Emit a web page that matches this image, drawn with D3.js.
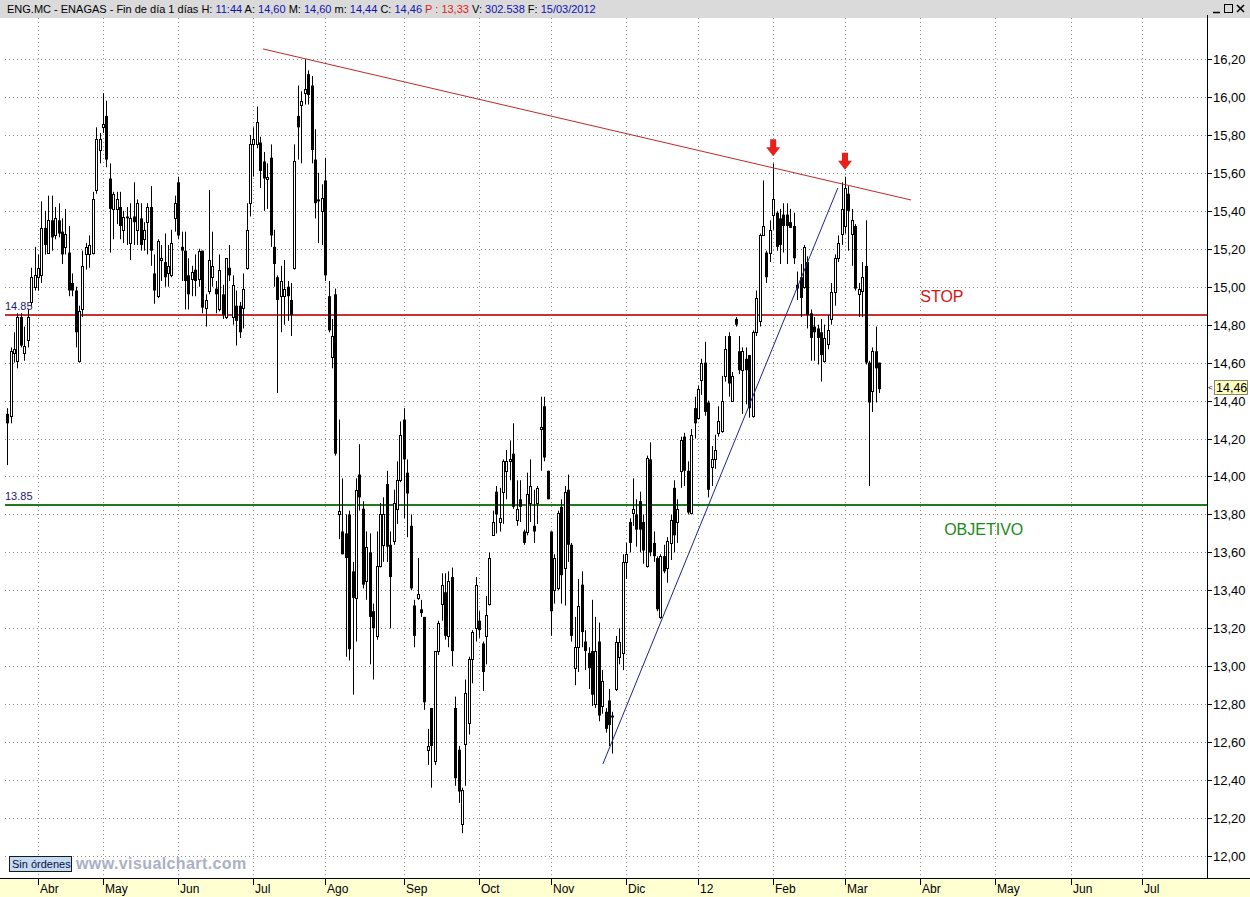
<!DOCTYPE html>
<html><head><meta charset="utf-8">
<script src="https://cdn.jsdelivr.net/npm/d3@7/dist/d3.min.js"></script>
<style>html,body{margin:0;padding:0;background:#fff;}svg{display:block;}</style>
</head><body>
<svg id="c" width="1250" height="897"></svg>
<script>
// ---------- DATA ----------
const firstIndex = -9; // trading-day index of first candle (0 = 1 Apr 2011)
const opens = [14.33,14.32,14.65,14.61,14.84,14.65,14.72,14.92,15.00,15.05,15.06,15.31,15.18,15.35,15.27,15.35,15.29,15.21,15.18,15.02,14.98,14.61,14.88,15.17,15.17,15.18,15.51,15.72,15.84,15.90,15.57,15.41,15.41,15.42,15.30,15.37,15.23,15.37,15.30,15.36,15.25,15.34,15.42,15.07,14.95,15.14,15.13,15.07,15.06,15.36,15.55,15.21,15.19,15.06,15.04,15.09,15.04,15.19,14.89,14.98,15.05,14.99,14.88,14.96,14.84,15.10,14.84,14.90,14.90,14.89,15.10,15.44,15.75,15.75,15.76,15.66,15.57,15.68,15.21,15.05,14.95,14.95,15.00,14.93,15.10,15.90,15.96,16.02,16.12,16.06,15.67,15.46,15.40,15.56,14.95,14.63,14.96,13.80,13.71,13.70,13.80,13.50,13.36,14.01,13.83,13.45,13.60,13.29,13.16,13.53,13.64,13.96,13.64,13.66,13.83,13.98,14.30,14.02,13.74,13.32,13.36,13.30,13.26,12.56,12.78,12.50,13.08,13.33,13.39,13.16,13.47,12.78,12.56,12.17,12.59,12.70,13.04,13.20,13.24,13.12,13.16,13.33,13.69,13.92,13.76,13.92,14.03,14.08,14.12,13.77,13.88,13.71,13.71,13.86,13.74,13.86,14.25,14.37,14.03,13.71,13.40,13.41,13.84,13.52,13.93,13.64,12.99,13.10,13.43,13.13,13.07,13.08,12.80,13.13,12.79,12.76,12.82,12.74,12.88,13.05,13.07,13.55,13.76,13.81,13.80,13.87,13.76,13.53,14.09,13.65,13.57,13.26,13.58,13.52,13.65,13.94,13.76,14.03,14.21,14.03,13.81,14.36,14.31,14.51,14.60,14.39,14.05,14.09,14.23,14.24,14.53,14.74,14.40,14.83,14.66,14.56,14.62,14.64,14.32,14.76,14.82,15.27,15.18,15.18,15.38,15.39,15.36,15.38,15.38,15.34,15.32,15.01,15.05,15.00,15.13,14.86,14.79,14.78,14.76,14.61,14.70,14.83,14.97,15.15,15.28,15.32,15.49,15.28,15.32,14.96,14.98,15.11,14.60,14.45,14.66,14.60];
const highs = [14.36,14.68,14.76,14.86,14.86,14.79,14.88,15.10,15.21,15.17,15.45,15.40,15.48,15.48,15.42,15.44,15.36,15.41,15.32,15.07,15.00,14.90,15.19,15.23,15.27,15.50,15.84,15.81,16.02,15.98,15.65,15.50,15.50,15.50,15.40,15.42,15.44,15.55,15.46,15.44,15.34,15.44,15.53,15.17,15.25,15.22,15.28,15.22,15.30,15.48,15.58,15.29,15.29,15.15,15.11,15.17,15.20,15.19,14.96,15.51,15.29,15.03,15.17,15.01,15.15,15.22,15.06,14.98,14.92,15.07,15.44,15.80,15.84,15.95,15.79,15.71,15.65,15.75,15.30,15.06,15.11,15.14,15.03,15.02,15.75,16.06,16.03,16.20,16.14,16.11,15.83,15.60,15.54,15.68,15.03,14.83,14.99,14.30,13.99,13.80,13.82,13.55,13.99,14.17,13.87,13.71,13.70,13.33,13.71,13.86,13.89,14.03,13.71,13.93,14.08,14.29,14.36,14.09,13.80,13.35,13.57,13.35,13.26,12.67,12.78,13.08,13.24,13.49,13.49,13.50,13.52,12.84,12.58,12.36,12.93,13.05,13.19,13.47,13.29,13.13,13.37,13.60,13.82,13.95,13.94,14.09,14.14,14.19,14.28,13.98,13.98,13.72,14.02,14.09,13.93,13.95,14.42,14.42,14.03,13.71,13.59,13.82,13.88,13.95,14.01,13.65,13.26,13.46,13.50,13.19,13.10,13.35,13.26,13.23,12.98,12.78,12.88,12.76,13.16,13.20,13.59,13.65,13.78,13.99,13.88,13.92,13.80,14.11,14.18,13.71,13.58,13.59,13.64,13.68,13.80,13.98,13.88,14.21,14.23,14.08,14.25,14.42,14.48,14.62,14.71,14.40,14.16,14.22,14.37,14.53,14.74,14.76,14.55,14.84,14.74,14.68,14.68,14.64,14.77,14.98,15.28,15.56,15.19,15.35,15.65,15.40,15.41,15.44,15.44,15.41,15.39,15.08,15.12,15.22,15.16,14.88,14.84,14.80,14.83,14.80,14.85,15.02,15.17,15.27,15.55,15.58,15.53,15.41,15.33,15.02,15.13,15.35,14.61,14.68,14.79,14.60];
const lows = [14.06,14.28,14.60,14.57,14.68,14.61,14.68,14.90,14.98,14.98,15.02,15.17,15.18,15.19,15.25,15.26,15.12,15.17,14.95,14.95,14.68,14.60,14.84,15.09,15.10,15.17,15.49,15.65,15.81,15.63,15.18,15.25,15.33,15.25,15.23,15.22,15.14,15.22,15.22,15.19,15.19,15.17,15.11,14.91,14.94,15.03,15.00,15.00,15.05,15.29,15.25,15.03,14.88,14.88,14.95,14.95,15.00,14.86,14.79,14.96,15.00,14.86,14.87,14.83,14.83,15.03,14.80,14.69,14.73,14.78,15.09,15.37,15.58,15.73,15.52,15.40,15.41,15.21,15.00,14.44,14.76,14.80,14.82,14.74,15.09,15.67,15.65,15.96,15.96,15.65,15.36,15.23,15.22,15.03,14.76,14.57,14.11,13.67,13.59,13.05,13.03,12.85,13.13,13.82,13.41,13.35,13.01,12.93,13.14,13.52,13.55,13.55,13.20,13.64,13.75,13.97,13.78,13.68,13.40,13.10,13.35,13.26,12.77,12.48,12.36,12.48,13.06,13.24,13.14,13.10,13.00,12.37,12.28,12.12,12.37,12.64,12.91,13.13,13.15,12.87,13.01,13.32,13.69,13.70,13.71,13.75,13.88,13.98,13.83,13.74,13.76,13.64,13.69,13.76,13.65,13.75,14.03,14.08,13.88,13.16,13.33,13.40,13.33,13.32,13.55,13.13,12.90,12.97,13.10,12.98,12.88,12.79,12.78,12.71,12.75,12.65,12.58,12.54,12.87,13.01,12.98,13.46,13.60,13.74,13.63,13.60,13.54,13.52,13.58,13.55,13.29,13.25,13.49,13.44,13.56,13.60,13.65,13.94,13.95,13.80,13.80,14.20,14.30,14.43,14.32,13.89,13.95,14.04,14.21,14.23,14.50,14.42,14.40,14.79,14.54,14.33,14.38,14.31,14.31,14.74,14.79,15.27,15.02,15.13,15.30,15.19,15.12,15.18,15.12,15.31,15.12,14.93,14.84,14.99,14.78,14.61,14.61,14.59,14.50,14.60,14.67,14.80,14.90,15.13,15.22,15.28,15.19,15.11,14.98,14.84,14.84,14.59,13.95,14.34,14.39,14.44];
const closes = [14.28,14.66,14.67,14.84,14.69,14.69,14.84,15.05,15.06,15.10,15.31,15.22,15.35,15.26,15.36,15.28,15.17,15.28,14.98,14.98,14.76,14.87,15.11,15.21,15.22,15.46,15.78,15.78,15.86,15.67,15.41,15.49,15.46,15.32,15.37,15.36,15.36,15.34,15.44,15.22,15.30,15.42,15.19,14.98,15.24,15.15,15.05,15.11,15.23,15.44,15.27,15.19,15.03,14.96,15.08,15.03,15.19,14.89,14.93,15.14,15.11,14.96,15.09,14.85,15.15,15.06,15.01,14.82,14.76,14.99,15.30,15.75,15.78,15.87,15.61,15.57,15.58,15.27,15.12,14.93,15.03,14.99,14.95,14.85,15.66,15.84,15.98,16.04,16.01,15.72,15.44,15.45,15.47,15.06,14.77,14.74,14.12,13.82,13.59,13.57,13.09,13.36,13.93,13.89,13.43,13.63,13.26,13.20,13.53,13.80,13.80,13.63,13.47,13.86,13.98,14.22,14.09,13.91,13.41,13.16,13.38,13.28,12.81,12.58,12.58,13.08,13.23,13.43,13.16,13.45,13.08,12.41,12.34,12.35,12.86,13.04,13.18,13.43,13.19,12.97,13.27,13.57,13.76,13.80,13.78,14.08,14.08,14.09,13.84,13.83,13.84,13.65,13.91,13.95,13.71,13.94,14.26,14.10,13.88,13.29,13.57,13.81,13.48,13.92,13.64,13.16,13.10,13.32,13.18,13.08,12.99,12.85,13.08,12.74,12.92,12.67,12.69,12.73,13.13,13.13,13.55,13.59,13.65,13.83,13.72,13.72,13.61,14.10,13.60,13.58,13.30,13.58,13.50,13.66,13.77,13.69,13.83,14.19,14.03,13.81,14.22,14.28,14.46,14.60,14.34,13.93,14.09,14.14,14.29,14.40,14.67,14.49,14.53,14.80,14.56,14.66,14.56,14.36,14.76,14.94,15.27,15.32,15.05,15.30,15.46,15.21,15.22,15.32,15.32,15.31,15.15,14.99,14.94,15.21,14.85,14.73,14.76,14.73,14.64,14.73,14.77,14.97,15.15,15.23,15.41,15.52,15.40,15.35,14.99,14.99,15.05,14.60,14.39,14.66,14.57,14.46];

const monthLabels  = ["Abr","May","Jun","Jul","Ago","Sep","Oct","Nov","Dic","12","Feb","Mar","Abr","May","Jun","Jul"];
const monthIndices = [0,19,41,63,84,107,129,150,172,193,215,236,258,280,302,323];
const priceTicks = d3.range(12.0, 16.2001, 0.2);
const stopLevel = 14.85, targetLevel = 13.85;
const redTrend  = [[65.8,16.253],[255.3,15.457]];   // [index, price]
const blueTrend = [[165.2,12.485],[233.9,15.52]];
const arrowIndices = [215, 236];
const lastPrice = 14.46;
const header = [
  ["ENG.MC - ENAGAS - Fin de día 1 días H: ","#000"],["11:44","#1010b0"],[" A: ","#000"],["14,60","#1010b0"],
  [" M: ","#000"],["14,60","#1010b0"],[" m: ","#000"],["14,44","#1010b0"],[" C: ","#000"],["14,46","#1010b0"],
  [" P : 13,33","#e02020"],[" V: ","#000"],["302.538","#1010b0"],[" F: ","#000"],["15/03/2012","#1010b0"]];

// ---------- LAYOUT ----------
const W = 1250, H = 897;
const plotR = 1207, plotT = 18, plotB = 878;
const svg = d3.select("#c");
const x = d3.scaleLinear().domain([0, 236]).range([38, 845]);
const y = d3.scaleLinear().domain([12.0, 16.2]).range([856, 59]);
const fmt = v => d3.format(".2f")(v).replace(".", ",");
const font = "'Liberation Sans', Arial, sans-serif";

svg.append("rect").attr("width", W).attr("height", H).attr("fill", "#fff");

// header bar
svg.append("rect").attr("x",0).attr("y",0).attr("width",W).attr("height",plotT).attr("fill","#dadada");
const ht = svg.append("text").attr("x",7).attr("y",12.5).attr("font-family",font).attr("font-size",11)
  .style("white-space","pre");
header.forEach(([t,c]) => ht.append("tspan").attr("fill",c).text(t));
// window buttons
const wb = svg.append("g").attr("stroke","#000").attr("fill","none");
wb.append("line").attr("x1",1213).attr("x2",1220).attr("y1",12.5).attr("y2",12.5).attr("stroke-width",1.5);
wb.append("rect").attr("x",1224.5).attr("y",4.5).attr("width",8).attr("height",8).attr("stroke-width",1);
wb.append("line").attr("x1",1237).attr("x2",1244).attr("y1",5).attr("y2",12).attr("stroke-width",1.5);
wb.append("line").attr("x1",1244).attr("x2",1237).attr("y1",5).attr("y2",12).attr("stroke-width",1.5);

// gridlines
const grid = svg.append("g").attr("stroke","#8c8c8c").attr("stroke-width",1).attr("stroke-dasharray","1,3");
grid.selectAll("line.h").data(priceTicks).join("line").attr("class","h")
  .attr("x1",5).attr("x2",plotR).attr("y1",d=>Math.round(y(d))+0.5).attr("y2",d=>Math.round(y(d))+0.5);
grid.selectAll("line.v").data(monthIndices).join("line").attr("class","v")
  .attr("x1",d=>Math.round(x(d))+0.5).attr("x2",d=>Math.round(x(d))+0.5).attr("y1",plotT).attr("y2",plotB);

// horizontal levels
const levels = [{v:stopLevel,c:"#c83232"},{v:targetLevel,c:"#1f7a1f"}];
svg.selectAll("line.lvl").data(levels).join("line").attr("class","lvl")
  .attr("x1",5).attr("x2",plotR).attr("y1",d=>Math.round(y(d.v))).attr("y2",d=>Math.round(y(d.v)))
  .attr("stroke",d=>d.c).attr("stroke-width",2);
svg.selectAll("text.lvl").data(levels).join("text").attr("class","lvl")
  .attr("x",5).attr("y",d=>Math.round(y(d.v))-5).attr("font-family",font).attr("font-size",11)
  .attr("fill","#20206e").text(d=>d.v.toFixed(2));

// candles
const data = opens.map((o,k)=>({i:firstIndex+k,o,h:highs[k],l:lows[k],c:closes[k]}));
const cg = svg.append("g");
cg.selectAll("line.w").data(data).join("line").attr("class","w")
  .attr("x1",d=>Math.round(x(d.i))+0.5).attr("x2",d=>Math.round(x(d.i))+0.5)
  .attr("y1",d=>y(d.h)).attr("y2",d=>y(d.l)).attr("stroke","#000").attr("stroke-width",1);
cg.selectAll("rect.b").data(data.filter(d=>d.c<d.o)).join("rect").attr("class","b")
  .attr("x",d=>Math.round(x(d.i))-1).attr("width",3)
  .attr("y",d=>y(d.o)).attr("height",d=>Math.max(1,y(d.c)-y(d.o))).attr("fill","#000");
cg.selectAll("rect.u").data(data.filter(d=>d.c>=d.o)).join("rect").attr("class","u")
  .attr("x",d=>Math.round(x(d.i))-0.5).attr("width",2)
  .attr("y",d=>Math.round(y(d.c))+0.5).attr("height",d=>Math.max(1,Math.round(y(d.o))-Math.round(y(d.c))))
  .attr("fill","#fff").attr("stroke","#000").attr("stroke-width",1);

// trend lines
const lineGen = d3.line().x(d=>x(d[0])).y(d=>y(d[1]));
svg.append("path").attr("d",lineGen(redTrend)).attr("stroke","#c02828").attr("stroke-width",1).attr("fill","none");
svg.append("path").attr("d",lineGen(blueTrend)).attr("stroke","#22228c").attr("stroke-width",1).attr("fill","none");

// arrows
const arrowData = arrowIndices.map(i=>data.find(d=>d.i===i));
svg.selectAll("path.arr").data(arrowData).join("path").attr("class","arr")
  .attr("d",d=>{const cx=x(d.i), tip=y(d.h)-7;
    return `M${cx-3},${tip-17}H${cx+3}V${tip-9}H${cx+7}L${cx},${tip}L${cx-7},${tip-9}H${cx-3}Z`;})
  .attr("fill","#e8201c");

// annotations
svg.append("text").attr("x",x(258)).attr("y",y(stopLevel)-13).attr("font-family",font).attr("font-size",16)
  .attr("fill","#e01010").text("STOP");
svg.append("text").attr("x",x(265)).attr("y",y(targetLevel)+30).attr("font-family",font).attr("font-size",16)
  .attr("fill","#1a8a1a").text("OBJETIVO");

// right axis
svg.append("rect").attr("x",plotR).attr("y",plotT).attr("width",W-plotR).attr("height",plotB-plotT).attr("fill","#fff");
svg.append("line").attr("x1",plotR+0.5).attr("x2",plotR+0.5).attr("y1",plotT-3).attr("y2",plotB).attr("stroke","#000");
const ra = svg.append("g");
ra.selectAll("line").data(priceTicks).join("line")
  .attr("x1",plotR).attr("x2",plotR+5).attr("y1",d=>Math.round(y(d))+0.5).attr("y2",d=>Math.round(y(d))+0.5).attr("stroke","#000");
ra.selectAll("text").data(priceTicks).join("text")
  .attr("x",plotR+6).attr("y",d=>y(d)+5).attr("font-family",font).attr("font-size",13).attr("fill","#000").text(fmt);
// last price marker
const ly = Math.round(y(lastPrice));
svg.append("rect").attr("x",1214.5).attr("y",ly-8.5).attr("width",33).attr("height",14).attr("fill","#ffffc0").attr("stroke","#8a8a60");
svg.append("text").attr("x",1216).attr("y",ly+3).attr("font-family",font).attr("font-size",12.5).text(fmt(lastPrice));
svg.append("text").attr("x",1208).attr("y",ly+1).attr("font-family",font).attr("font-size",8).text("<");

// bottom axis
svg.append("rect").attr("x",0).attr("y",plotB).attr("width",W).attr("height",H-plotB).attr("fill","#ffffd2");
svg.append("line").attr("x1",0).attr("x2",W).attr("y1",plotB+0.5).attr("y2",plotB+0.5).attr("stroke","#000");
const ba = svg.append("g");
ba.selectAll("line").data(monthIndices).join("line")
  .attr("x1",d=>Math.round(x(d))+0.5).attr("x2",d=>Math.round(x(d))+0.5).attr("y1",plotB).attr("y2",plotB+7).attr("stroke","#000");
ba.selectAll("text").data(monthIndices).join("text")
  .attr("x",d=>Math.round(x(d))+2).attr("y",H-4).attr("font-family",font).attr("font-size",12).attr("fill","#000")
  .text((d,k)=>monthLabels[k]);

// footer badges
svg.append("rect").attr("x",9.5).attr("y",856.5).attr("width",62).attr("height",15).attr("fill","#c4dcf2").attr("stroke","#1a1a1a");
svg.append("text").attr("x",12).attr("y",868).attr("font-family",font).attr("font-size",11).attr("fill","#0a0a40").text("Sin órdenes");
svg.append("text").attr("x",76).attr("y",869).attr("font-family",font).attr("font-size",16).attr("font-weight","bold")
  .attr("letter-spacing",0.4).attr("fill","#aab0c6").text("www.visualchart.com");
</script>
</body></html>
